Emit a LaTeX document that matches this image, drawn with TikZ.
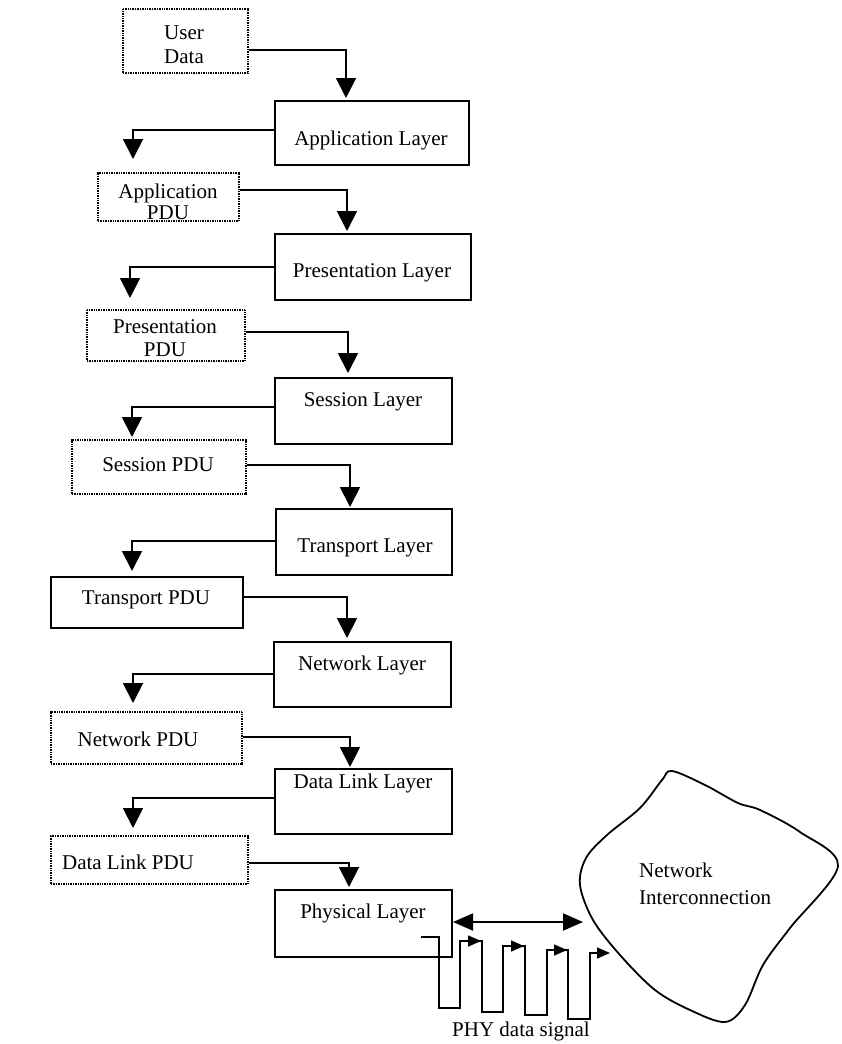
\documentclass[tikz,border=0pt]{standalone}
\usepackage{fontspec}
\setmainfont{Liberation Serif}
\usetikzlibrary{arrows.meta}
\begin{document}
\begin{tikzpicture}[x=1pt,y=-1pt,
  every node/.style={font=\fontsize{21}{23}\selectfont, inner sep=0pt},
  layerbox/.style={draw, line width=2pt, anchor=north west},
  pdubox/.style={draw, line width=1.6pt, dash pattern=on 1pt off 0.7pt, anchor=north west},
  solidpdu/.style={draw, line width=2pt, anchor=north west},
  flow/.style={line width=1.9pt, -{Triangle[width=20pt,length=20pt]}},
  wave/.style={line width=1.6pt},
  pulse/.style={line width=1.6pt, -{Triangle[width=11pt,length=13pt]}}
]
\useasboundingbox (0,0) rectangle (841,1044);

% ---- layer boxes ----
\node[layerbox, minimum width=194pt, minimum height=64pt] (al) at (274,100) {};
\node[layerbox, minimum width=196pt, minimum height=66pt] (pl) at (274,233) {};
\node[layerbox, minimum width=177pt, minimum height=66pt] (sl) at (274,377) {};
\node[layerbox, minimum width=176pt, minimum height=66pt] (tl) at (275,508) {};
\node[layerbox, minimum width=177pt, minimum height=65pt] (nl) at (273,641) {};
\node[layerbox, minimum width=177pt, minimum height=65pt] (dl) at (274,768) {};
\node[layerbox, minimum width=177pt, minimum height=67pt] (ph) at (274,889) {};

\node (alt) at (371,140) {Application Layer};
\node (plt) at (372,273) {Presentation Layer};
\node (slt) at (363,402) {Session Layer};
\node (tlt) at (365,548) {Transport Layer};
\node (nlt) at (362,665) {Network Layer};
\node (dlt) at (363,783) {Data Link Layer};
\node (pht) at (363,913) {Physical Layer};

% ---- data units ----
\node[pdubox, minimum width=125pt, minimum height=64pt] (ud) at (122,8) {};
\node[pdubox, minimum width=141pt, minimum height=48pt] (ap) at (97,172) {};
\node[pdubox, minimum width=158pt, minimum height=51pt] (pp) at (86,309) {};
\node[pdubox, minimum width=174pt, minimum height=54pt] (sp) at (71,439) {};
\node[solidpdu, minimum width=192pt, minimum height=51pt] (tp) at (50,576) {};
\node[pdubox, minimum width=191pt, minimum height=52pt] (np) at (50,711) {};
\node[pdubox, minimum width=197pt, minimum height=48pt] (dp) at (50,835) {};

\node[align=center, font=\fontsize{21}{24}\selectfont] (udt) at (184,45) {User\\Data};
\node[align=center, font=\fontsize{21}{21}\selectfont] (apt) at (168,202) {Application\\PDU};
\node[align=center, font=\fontsize{21}{23}\selectfont] (ppt) at (165,338) {Presentation\\PDU};
\node (spt) at (158,465) {Session PDU};
\node (tpt) at (146,600) {Transport PDU};
\node (npt) at (138,739) {Network PDU};
\node (dpt) at (128,862) {Data Link PDU};

% ---- data unit -> next layer ----
\draw[flow, shorten >=2pt] (ud.east |- 0,50) -| (al.north -| 346,0);
\draw[flow, shorten >=2pt] (ap.east |- 0,190) -| (pl.north -| 347,0);
\draw[flow, shorten >=4pt] (pp.east |- 0,332) -| (sl.north -| 348,0);
\draw[flow, shorten >=1pt] (sp.east |- 0,465) -| (tl.north -| 350,0);
\draw[flow, shorten >=3pt] (tp.east |- 0,597) -| (nl.north -| 347,0);
\draw[flow, shorten >=1pt] (np.east |- 0,737) -| (dl.north -| 350,0);
\draw[flow, shorten >=2pt] (dp.east |- 0,863) -| (ph.north -| 349,0);

% ---- layer -> its data unit ----
\draw[flow, shorten >=13pt] (al.west |- 0,130) -| (ap.north -| 133,0);
\draw[flow, shorten >=11pt] (pl.west |- 0,267) -| (pp.north -| 130,0);
\draw[flow, shorten >=2pt] (sl.west |- 0,407) -| (sp.north -| 132,0);
\draw[flow, shorten >=5pt] (tl.west |- 0,541) -| (tp.north -| 132,0);
\draw[flow, shorten >=8pt] (nl.west |- 0,674) -| (np.north -| 133,0);
\draw[flow, shorten >=7pt] (dl.west |- 0,798) -| (dp.north -| 133,0);

% ---- network cloud ----
\draw[line width=1.8pt] plot[smooth cycle, tension=0.55] coordinates {
  (672,771) (705,785) (738,803) (760,810) (800,832) (838,866)
  (790,928) (763,965) (745,1005) (725,1022) (690,1010) (655,990)
  (620,955) (593,920) (580,885) (586,858) (607,835) (640,808) (662,780)};
\node[align=left, anchor=west, font=\fontsize{21}{27}\selectfont] (cloudt) at (639,884) {Network\\Interconnection};
\coordinate (cin) at (583,922);

% ---- physical link ----
\draw[line width=1.9pt, {Triangle[width=17pt,length=20pt]}-{Triangle[width=17pt,length=20pt]}]
  (ph.east |- 0,922) -- (cin);

\draw[wave] (421,937) -- (439,937) -- (439,1008) -- (460,1008) -- (460,941) -- (482,941)
  -- (482,1012) -- (503,1012) -- (503,946) -- (525,946)
  -- (525,1015) -- (547,1015) -- (547,950) -- (568,950)
  -- (568,1019) -- (590,1019) -- (590,953) -- (596,953);
\draw[pulse] (460,941) -- (481,941);
\draw[pulse] (503,946) -- (524,946);
\draw[pulse] (547,950) -- (567,950);
\draw[pulse] (590,953) -- (610,953);

\node (phyt) at (521,1031) {PHY data signal};
\end{tikzpicture}
\end{document}
